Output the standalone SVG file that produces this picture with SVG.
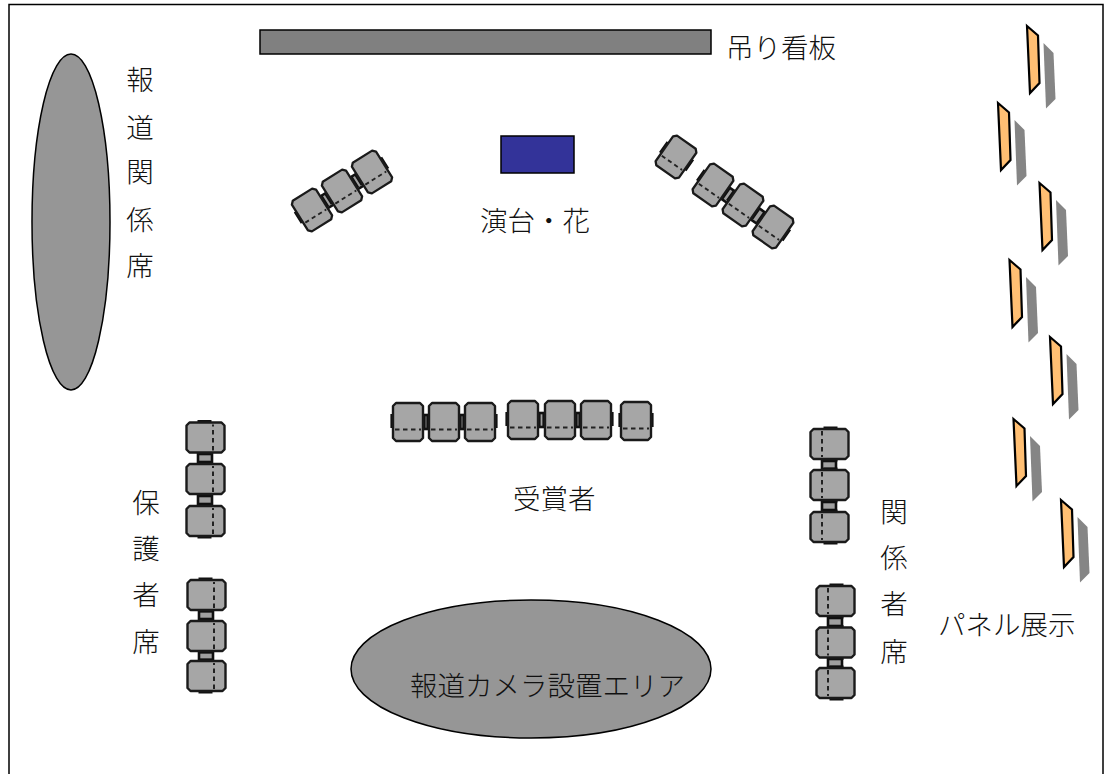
<svg xmlns="http://www.w3.org/2000/svg" width="1108" height="774" viewBox="0 0 1108 774">
<style>
text{font-family:"Noto Sans CJK JP","Liberation Serif",serif;font-size:27.500px;fill:#111;font-weight:300}
.v{text-anchor:middle}
.g{fill:#a6a6a6;stroke:#1a1a1a;stroke-width:2.400;stroke-linejoin:round}
.d{fill:none;stroke:#222;stroke-width:2;stroke-dasharray:4.500 3.500}
.b{fill:none;stroke:#111;stroke-width:3.200}
.l{fill:#a0a0a0;stroke:#111;stroke-width:2.600}
.c{fill:#969696;stroke:#000;stroke-width:1.500}
.o{fill:#ffbf73;stroke:#000;stroke-width:2.200}
.s{fill:#858585}
</style>
<defs>
<g id="chair">
<path class="b" d="M-16,-8V6M16,-8V6"/>
<path class="g" d="M-12,-19H12L15,-16V16L12,19H-12L-15,16V-16Z"/>
<path class="d" d="M-13,7.500H13"/>
</g>
<g id="link"><rect class="l" x="-4" y="-7" width="8" height="14"/></g>
<g id="panel">
<path class="o" d="M0,0L11,9.500L12.500,57L3,67Z"/>
<path class="s" d="M16.500,17L26.500,27L28.500,73L19,82.500Z"/>
</g>
</defs>
<rect x="9" y="4.500" width="1094" height="780" fill="#fff" stroke="#000" stroke-width="1.500"/>
<g id="hanging-sign"><rect x="260" y="30" width="451" height="24" fill="#808080" stroke="#000" stroke-width="1.500"/><text x="726" y="58">吊り看板</text></g>
<g id="press-seats"><ellipse class="c" cx="71" cy="222" rx="39" ry="168"/>
<text class="v" x="140" y="90">報</text><text class="v" x="140" y="138">道</text><text class="v" x="140" y="182">関</text><text class="v" x="140" y="230">係</text><text class="v" x="140" y="276">席</text></g>
<g id="stage"><rect x="501" y="136" width="73" height="37" fill="#333399" stroke="#000" stroke-width="1.500"/><text x="480" y="231">演台・花</text></g>
<g id="chairs-top-left">
<use href="#link" transform="translate(327,200.500) rotate(-32)"/><use href="#link" transform="translate(357,181.500) rotate(-32)"/>
<use href="#chair" transform="translate(312,210) rotate(-32) scale(.95)"/><use href="#chair" transform="translate(342,191) rotate(-32) scale(.95)"/><use href="#chair" transform="translate(372,172) rotate(-32) scale(.95)"/></g>
<g id="chairs-top-right">
<use href="#link" transform="translate(728,195) rotate(35)"/><use href="#link" transform="translate(758,216) rotate(35)"/>
<use href="#chair" transform="translate(676,157) rotate(35) scale(.95)"/><use href="#chair" transform="translate(713,185) rotate(35) scale(.95)"/><use href="#chair" transform="translate(743,205) rotate(35) scale(.95)"/><use href="#chair" transform="translate(773,227) rotate(35) scale(.95)"/></g>
<g id="awardees">
<use href="#link" transform="translate(426,422)"/><use href="#link" transform="translate(462,422)"/><use href="#link" transform="translate(541,420)"/><use href="#link" transform="translate(577,420)"/>
<use href="#chair" transform="translate(408,422)"/><use href="#chair" transform="translate(444,422)"/><use href="#chair" transform="translate(480,422)"/>
<use href="#chair" transform="translate(523,420)"/><use href="#chair" transform="translate(560,420)"/><use href="#chair" transform="translate(596,420)"/><use href="#chair" transform="translate(636,421)"/>
<text x="513" y="509">受賞者</text></g>
<g id="guardian-seats">
<use href="#link" transform="translate(205,458) rotate(90)"/><use href="#link" transform="translate(205,500) rotate(90)"/><use href="#link" transform="translate(206,615) rotate(90)"/><use href="#link" transform="translate(206,656) rotate(90)"/>
<use href="#chair" transform="translate(205.500,437.500) rotate(-90)"/><use href="#chair" transform="translate(205.500,479) rotate(-90)"/><use href="#chair" transform="translate(205.500,521) rotate(-90)"/>
<use href="#chair" transform="translate(206.500,595) rotate(-90)"/><use href="#chair" transform="translate(206.500,636) rotate(-90)"/><use href="#chair" transform="translate(206.500,676) rotate(-90)"/>
<text class="v" x="146" y="513">保</text><text class="v" x="146" y="559">護</text><text class="v" x="146" y="605">者</text><text class="v" x="146" y="652">席</text></g>
<g id="related-seats">
<use href="#link" transform="translate(829,465) rotate(90)"/><use href="#link" transform="translate(829,506) rotate(90)"/><use href="#link" transform="translate(835,622) rotate(90)"/><use href="#link" transform="translate(835,663) rotate(90)"/>
<use href="#chair" transform="translate(829.500,444) rotate(90)"/><use href="#chair" transform="translate(829.500,485) rotate(90)"/><use href="#chair" transform="translate(829.500,527) rotate(90)"/>
<use href="#chair" transform="translate(835.500,601) rotate(90)"/><use href="#chair" transform="translate(835.500,642.500) rotate(90)"/><use href="#chair" transform="translate(835.500,683) rotate(90)"/>
<text class="v" x="894" y="522">関</text><text class="v" x="894" y="568">係</text><text class="v" x="894" y="614">者</text><text class="v" x="894" y="662">席</text></g>
<g id="camera-area"><ellipse class="c" cx="531" cy="669" rx="180" ry="69"/><text x="410" y="696">報道カメラ設置エリア</text></g>
<g id="panels">
<use href="#panel" x="1027" y="26"/><use href="#panel" x="998" y="103"/><use href="#panel" x="1039.500" y="183"/><use href="#panel" x="1009.500" y="260"/><use href="#panel" x="1050" y="337"/><use href="#panel" x="1013.500" y="419"/><use href="#panel" x="1061" y="500"/>
<text x="938" y="635">パネル展示</text></g>
<g id="connectors"/>
</svg>
